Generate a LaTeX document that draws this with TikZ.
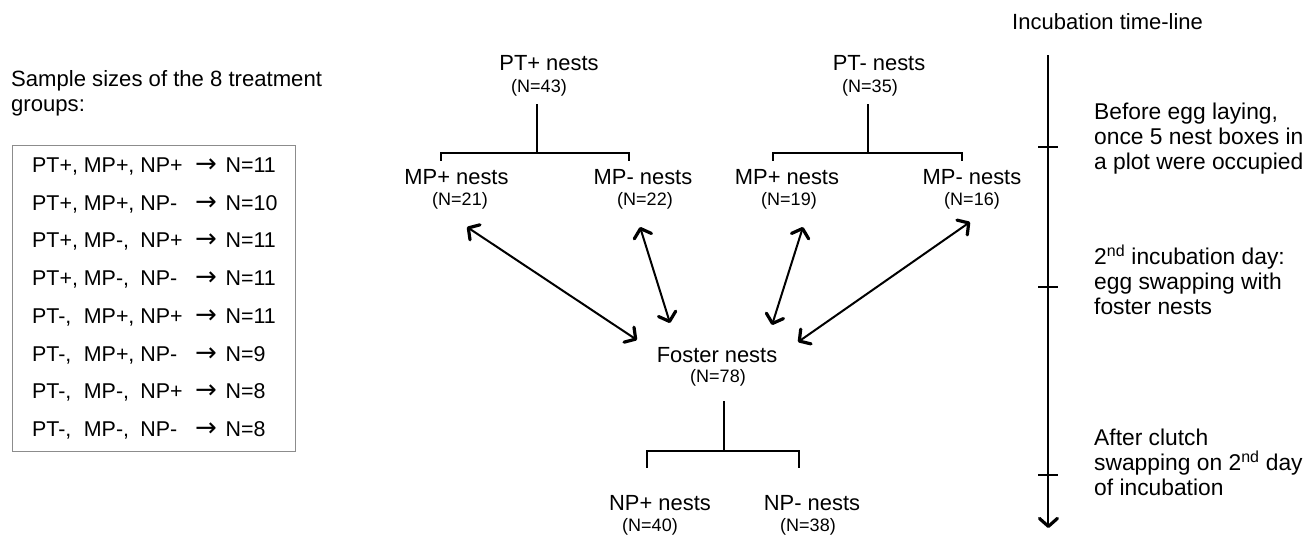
\documentclass[tikz,border=0pt]{standalone}
\usepackage{fontspec}
\setmainfont{Liberation Sans}
\newfontfamily\symfont{DejaVu Sans}
\usetikzlibrary{arrows.meta}
\begin{document}
\begin{tikzpicture}[x=1pt,y=-1pt,
  lab/.style={anchor=base, inner sep=0pt, font=\fontsize{21.9}{26}\selectfont},
  cnt/.style={anchor=base, inner sep=0pt, font=\fontsize{18}{22}\selectfont},
  txt/.style={anchor=base west, inner sep=0pt, font=\fontsize{22.8}{26}\selectfont},
  ttl/.style={anchor=base west, inner sep=0pt, font=\fontsize{22.1}{26}\selectfont},
  rowtxt/.style={anchor=base west, inner sep=0pt, font=\fontsize{21.4}{26}\selectfont},
  tree/.style={line width=1.3pt, line cap=rect},
  barb/.tip={Straight Barb[length=8pt,width=18pt,line width=3.2pt,round]},
  dbl/.style={line width=2pt, barb-barb},
  tl/.style={line width=2pt, -barb},
  tick/.style={line width=1.5pt},
  boxframe/.style={draw=black!45, line width=1pt},
]
\useasboundingbox (0,0) rectangle (1310,536);

% ---- left legend ----
\node[ttl] (title1) at (11,86) {Sample sizes of the 8 treatment};
\node[ttl] (title2) at (11,111.5) {groups:};
\node[boxframe, inner sep=0pt, minimum width=283pt, minimum height=306pt, anchor=north west] (legend) at (12,145) {};
\newcommand{\rowline}[4]{\makebox[51.7pt][l]{#1}\makebox[56.5pt][l]{#2}\makebox[54.8pt][l]{#3}\makebox[22pt][l]{\symfont\fontsize{26}{26}\selectfont →}\hspace{8.5pt}#4}
\node[rowtxt] (r1) at (32,172.5) {\rowline{PT+,}{MP+,}{NP+}{N=11}};
\node[rowtxt] (r2) at (32,210.2) {\rowline{PT+,}{MP+,}{NP-}{N=10}};
\node[rowtxt] (r3) at (32,247.9) {\rowline{PT+,}{MP-,}{NP+}{N=11}};
\node[rowtxt] (r4) at (32,285.6) {\rowline{PT+,}{MP-,}{NP-}{N=11}};
\node[rowtxt] (r5) at (32,323.3) {\rowline{PT-,}{MP+,}{NP+}{N=11}};
\node[rowtxt] (r6) at (32,361.0) {\rowline{PT-,}{MP+,}{NP-}{N=9}};
\node[rowtxt] (r7) at (32,398.7) {\rowline{PT-,}{MP-,}{NP+}{N=8}};
\node[rowtxt] (r8) at (32,436.4) {\rowline{PT-,}{MP-,}{NP-}{N=8}};

% ---- tree ----
\node[lab] (ptp) at (549,70) {PT+ nests};
\node[cnt] (ptpn) at (539,92) {(N=43)};
\node[lab] (ptm) at (879,70) {PT- nests};
\node[cnt] (ptmn) at (870,92) {(N=35)};

\node[lab] (mpl1) at (456.5,184) {MP+ nests};
\node[cnt] (mpl1n) at (460,205) {(N=21)};
\node[lab] (mml1) at (643,184) {MP- nests};
\node[cnt] (mml1n) at (645,205) {(N=22)};
\node[lab] (mpl2) at (787,184) {MP+ nests};
\node[cnt] (mpl2n) at (789,205) {(N=19)};
\node[lab] (mml2) at (972,184) {MP- nests};
\node[cnt] (mml2n) at (972,205) {(N=16)};

\node[lab] (fos) at (717,362) {Foster nests};
\node[cnt] (fosn) at (718,382) {(N=78)};

\node[lab] (npp) at (660,510) {NP+ nests};
\node[cnt] (nppn) at (650,531) {(N=40)};
\node[lab] (npm) at (812,510) {NP- nests};
\node[cnt] (npmn) at (808,531) {(N=38)};

% brackets
\coordinate (a0) at (537,105); \coordinate (a1) at (537,153);
\coordinate (al) at (441,153); \coordinate (ar) at (629,153);
\draw[tree] (a0) -- (a1);
\draw[tree] ([yshift=-7pt]al) -- (al) -- (ar) -- ([yshift=-7pt]ar);

\coordinate (b0) at (868,105); \coordinate (b1) at (868,153);
\coordinate (bl) at (773,153); \coordinate (br) at (962,153);
\draw[tree] (b0) -- (b1);
\draw[tree] ([yshift=-7pt]bl) -- (bl) -- (br) -- ([yshift=-7pt]br);

\coordinate (c0) at (724,402); \coordinate (c1) at (724,451);
\coordinate (cl) at (647,451); \coordinate (cr) at (799,451);
\draw[tree] (c0) -- (c1);
\draw[tree] ([yshift=-16pt]cl) -- (cl) -- (cr) -- ([yshift=-16pt]cr);

% double arrows
\coordinate (e1a) at (467,227); \coordinate (e1b) at (637,340);
\coordinate (e2a) at (640,227); \coordinate (e2b) at (670,323);
\coordinate (e3a) at (803,227); \coordinate (e3b) at (772,325);
\coordinate (e4a) at (970,222); \coordinate (e4b) at (798,342);
\draw[dbl] (e1a) -- (e1b);
\draw[dbl] (e2a) -- (e2b);
\draw[dbl] (e3a) -- (e3b);
\draw[dbl] (e4a) -- (e4b);

% ---- timeline ----
\node[anchor=base west, inner sep=0pt, font=\fontsize{22}{26}\selectfont] (tlt) at (1012,29) {Incubation time-line};
\coordinate (tltop) at (1048.4,55); \coordinate (tlbot) at (1048.4,528);
\draw[tl] (tltop) -- (tlbot);
\coordinate (k1) at (1048.4,147); \coordinate (k2) at (1048.4,287); \coordinate (k3) at (1048.4,475);
\draw[tick] ([xshift=-10pt]k1) -- ([xshift=10pt]k1);
\draw[tick] ([xshift=-10pt]k2) -- ([xshift=10pt]k2);
\draw[tick] ([xshift=-10pt]k3) -- ([xshift=10pt]k3);

\node[txt] (s1a) at (1094,119) {Before egg laying,};
\node[txt] (s1b) at (1094,144) {once 5 nest boxes in};
\node[txt] (s1c) at (1094,169) {a plot were occupied};
\node[txt] (s2a) at (1094,264) {2\textsuperscript{nd} incubation day:};
\node[txt] (s2b) at (1094,289) {egg swapping with};
\node[txt] (s2c) at (1094,314) {foster nests};
\node[txt] (s3a) at (1094,445) {After clutch};
\node[txt] (s3b) at (1094,470) {swapping on 2\textsuperscript{nd} day};
\node[txt] (s3c) at (1094,495) {of incubation};
\end{tikzpicture}
\end{document}
